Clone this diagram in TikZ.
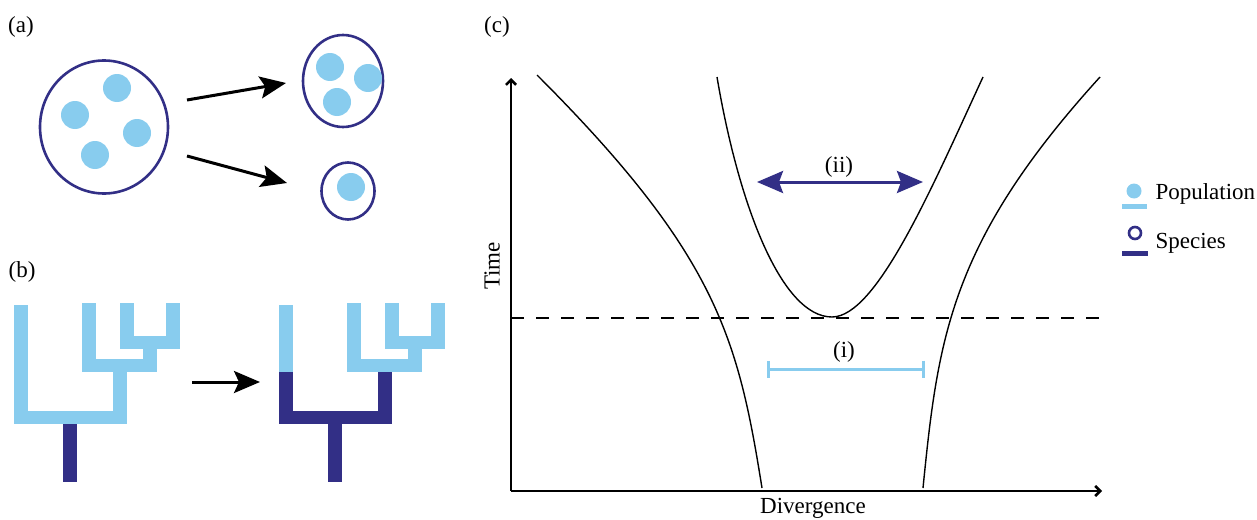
\documentclass[tikz,border=0pt]{standalone}
\usepackage{fontspec}
\setmainfont{Liberation Serif}
\newfontfamily\figfont{Liberation Serif}
\usetikzlibrary{arrows.meta, shapes.geometric}
\definecolor{popblue}{HTML}{88CCEE}
\definecolor{spblue}{HTML}{322F86}

\begin{document}
\begin{tikzpicture}[
  x=1pt, y=-1pt,
  font=\figfont\fontsize{23}{27}\selectfont,
  species/.style={ellipse, draw=spblue, line width=2.6pt, inner sep=0pt},
  pop/.style={circle, fill=popblue, inner sep=0pt, minimum size=28pt},
  arr/.style={-{Stealth[length=26pt, width=22pt, inset=5pt]}, line width=3pt},
  axis/.style={-{Straight Barb[length=5pt, width=10pt]}, line width=2.6pt},
  lineage/.style={line width=1.4pt},
  branch/.style={line width=13.5pt, line join=miter, line cap=butt},
  swatch/.style={line width=5pt},
]
  \useasboundingbox (0,0) rectangle (1257,519);

  % Panel labels
  \node (lbla) at (21,27) {(a)};
  \node (lblb) at (22,272) {(b)};
  \node (lblc) at (497,27) {(c)};

  % (a) one species splitting in two
  \node[species, minimum width=128pt, minimum height=133pt] (pool) at (104,127) {};
  \node[pop] (p1) at (75,115) {};
  \node[pop] (p2) at (117,88) {};
  \node[pop] (p3) at (137,133) {};
  \node[pop] (p4) at (95,155) {};
  \node[species, minimum width=80pt, minimum height=92pt] (big) at (343,81) {};
  \node[pop] (q1) at (330,67) {};
  \node[pop] (q2) at (368,78) {};
  \node[pop] (q3) at (337,102) {};
  \node[species, minimum width=53pt, minimum height=57pt] (small) at (348,191) {};
  \node[pop] (r1) at (351,187) {};
  \coordinate (splitup) at (187,100);
  \coordinate (intobig) at (286,83);
  \coordinate (splitdn) at (187,156);
  \coordinate (intosmall) at (287,183);
  \draw[arr] (splitup) -- (intobig);
  \draw[arr] (splitdn) -- (intosmall);

  % (b) trees, before and after
  \draw[branch, popblue] (21,305) |- (120,417.5) -- (120,365.5);
  \draw[branch, popblue] (89,303) |- (150,365.5) -- (150,342.5);
  \draw[branch, popblue] (127,303) |- (173,342.5) -- (173,303);
  \draw[branch, spblue] (70,424) -- (70,482);
  \coordinate (treeout) at (192,382);
  \coordinate (treein) at (260,382);
  \draw[arr] (treeout) -- (treein);
  \begin{scope}[xshift=265pt]
    \draw[branch, popblue] (21,305) -- (21,372);
    \draw[branch, spblue] (21,372) |- (120,417.5) -- (120,372);
    \draw[branch, popblue] (89,303) |- (150,365.5) -- (150,342.5);
    \draw[branch, popblue] (127,303) |- (173,342.5) -- (173,303);
    \draw[branch, spblue] (70,424) -- (70,482);
  \end{scope}

  % (c) axes
  \coordinate (origin) at (511,491);
  \coordinate (ytop) at (511,78);
  \coordinate (xend) at (1102,491);
  \draw[axis] (origin) -- (ytop);
  \draw[axis] (origin) -- (xend);
  \node[rotate=90] (ylabel) at (492,266) {Time};
  \node[anchor=base] (xlabel) at (813,513.5) {Divergence};
  \draw[line width=1.1pt, dash pattern=on 13pt off 12pt] (511,318) -- (1101,318);

  % lineage curves
  \draw[lineage] (537,75) .. controls (717,255) and (738,338) .. (762,488);
  \draw[lineage] (717,77) .. controls (739,207) and (782,317) .. (832,317)
                          .. controls (877,317) and (933,185) .. (983,77);
  \draw[lineage] (1100,77) .. controls (950,242) and (938,338) .. (923,488);

  % (i) and (ii)
  \coordinate (iileft) at (757,182);
  \coordinate (iiright) at (923,182);
  \draw[{Stealth[length=26pt, width=22pt, inset=4pt]}-{Stealth[length=26pt, width=22pt, inset=4pt]}, spblue, line width=3pt] (iileft) -- (iiright);
  \node (lblii) at (839,167) {(ii)};
  \coordinate (ileft) at (767,369);
  \coordinate (iright) at (925,369);
  \draw[{Bar[width=17pt]}-{Bar[width=17pt]}, popblue, line width=3pt] (ileft) -- (iright);
  \node (lbli) at (844,352) {(i)};

  % Legend
  \node[circle, fill=popblue, minimum size=15pt, inner sep=0pt] (popdot) at (1134,191) {};
  \draw[swatch, popblue] ([xshift=-12pt, yshift=-15pt]popdot.center) -- ++(25,0);
  \node[anchor=west] (poplabel) at (1152,194) {Population};
  \node[circle, draw=spblue, line width=2.6pt, minimum size=12pt, inner sep=0pt] (spring) at (1135,233) {};
  \draw[swatch, spblue] ([xshift=-13pt, yshift=-20pt]spring.center) -- ++(26,0);
  \node[anchor=west] (splabel) at (1152,243) {Species};
\end{tikzpicture}
\end{document}
